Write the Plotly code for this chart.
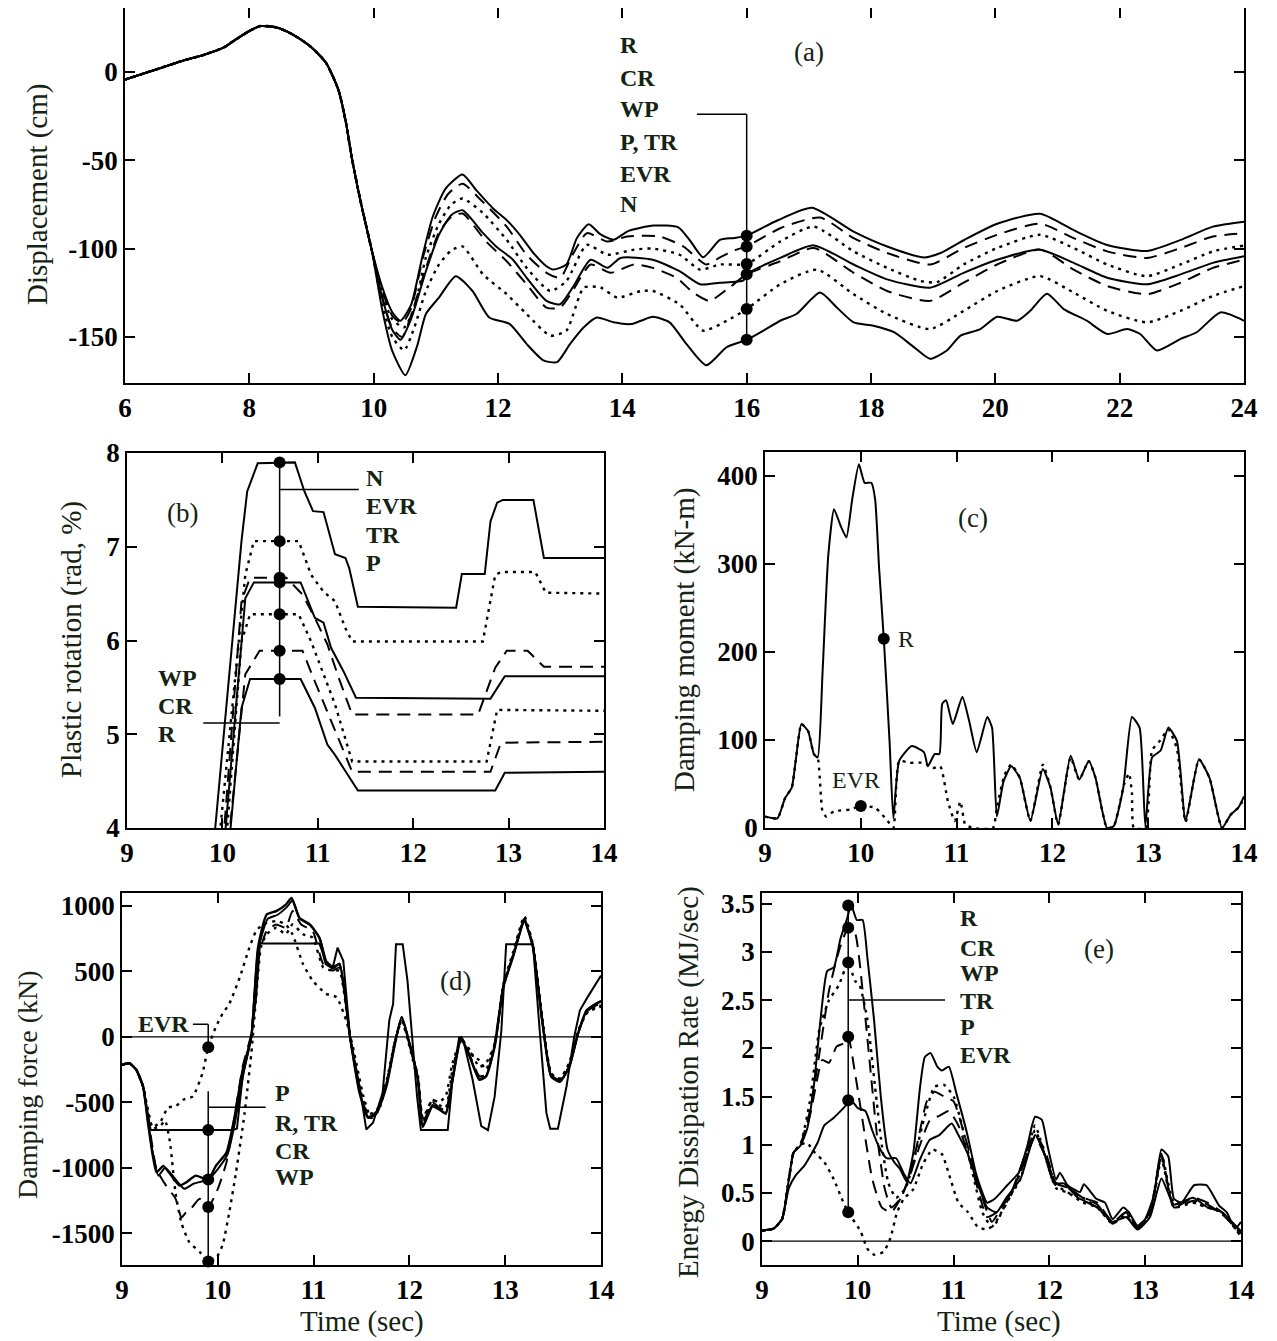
import plotly.graph_objects as go

W, H = 1277, 1341
OFF = 8  # browser default body margin
SERIF = "Liberation Serif"
TXT = "#142312"

# ---------------- Panel (a): displacement ----------------
a_t_common = [6.0, 6.3, 6.6, 6.93, 7.26, 7.59, 7.79, 8.0, 8.18, 8.44, 8.7, 8.97, 9.23, 9.43, 9.55, 9.65, 9.8, 9.97]
a_d_common = [-4.5, -1.0, 2.4, 6.2, 9.4, 13.7, 18.4, 23.0, 25.8, 25.0, 21.0, 14.6, 5.2, -10.0, -28.0, -49.0, -75.0, -101.0]

a_R_t = [10.14, 10.3, 10.43, 10.6, 10.78, 10.95, 11.16, 11.43, 11.65, 11.92, 12.14, 12.35, 12.57, 12.78, 12.89, 13.1, 13.27, 13.46, 13.65, 13.86, 14.1, 14.5, 14.9, 15.1, 15.3, 15.57, 15.8, 16.0, 16.5, 17.05, 17.72, 18.26, 18.85, 19.12, 19.49, 20.03, 20.72, 21.26, 21.8, 22.44, 22.98, 23.5, 24.0]
a_R = [-122, -136, -140.8, -132, -105, -82, -66, -58.1, -67, -77.3, -83.9, -92.2, -102.5, -110, -111.9, -109, -94, -86.3, -92, -95, -90, -87, -88, -96, -104.9, -95.1, -94, -92.7, -84, -76.9, -90.4, -98.8, -105, -102.5, -95.3, -86, -80.3, -89.6, -98, -101.4, -95.1, -87.6, -84.8]

a_CR_t = [10.14, 10.3, 10.46, 10.6, 10.8, 11.0, 11.2, 11.43, 11.7, 12.14, 12.46, 12.78, 13.0, 13.2, 13.43, 13.76, 14.08, 14.6, 14.98, 15.35, 15.57, 15.8, 16.0, 16.54, 17.18, 17.72, 18.26, 18.95, 19.49, 20.03, 20.72, 21.26, 21.8, 22.44, 22.98, 23.5, 24.0]
a_CR = [-124, -138, -142, -134, -104, -82, -69, -63.3, -71.7, -87.6, -103.5, -113.7, -116.5, -103.5, -91.3, -96, -93.2, -93.2, -98.8, -109, -105, -101, -98.8, -88.5, -82.5, -94.1, -102.5, -109, -99.7, -92.2, -85.9, -94.1, -101.6, -105.3, -99.7, -93.2, -91.3]

a_WP_t = [10.14, 10.3, 10.49, 10.65, 10.84, 11.05, 11.25, 11.43, 11.76, 12.14, 12.46, 12.84, 13.1, 13.43, 13.76, 14.19, 14.49, 14.92, 15.25, 15.57, 16.0, 16.54, 17.08, 17.72, 18.26, 18.8, 19.06, 19.49, 20.03, 20.72, 21.26, 21.8, 22.44, 22.98, 23.5, 24.0]
a_WP = [-126, -140, -144.5, -134, -105, -86, -75, -71.7, -80, -95.1, -110.9, -124, -118.4, -97.9, -103.5, -100.6, -100, -103.5, -111.9, -109, -108.7, -96, -87.6, -101.6, -110.9, -118.4, -119, -109, -99.7, -92.2, -99.7, -109, -115.6, -109, -101.6, -98.3]

a_P_t = [10.14, 10.3, 10.43, 10.6, 10.84, 11.05, 11.25, 11.43, 11.76, 11.97, 12.24, 12.46, 12.78, 13.0, 13.2, 13.49, 13.76, 13.97, 14.49, 14.92, 15.25, 15.57, 15.95, 16.0, 16.54, 17.08, 17.72, 18.26, 18.95, 19.49, 20.03, 20.72, 21.26, 21.8, 22.44, 22.98, 23.5, 24.0]
a_P = [-128, -146, -151.6, -140, -112.8, -92.2, -81, -78.3, -91.3, -98.8, -106.3, -116.5, -129.6, -131.5, -122.1, -106.3, -110.9, -105.3, -106.3, -112.8, -120.2, -119.3, -118, -114.4, -105.3, -98.2, -109, -117.4, -122.1, -113.7, -106.3, -100.6, -108.1, -116.5, -120.2, -114.6, -108.1, -104.4]

a_TR_t = [10.14, 10.3, 10.46, 10.6, 10.84, 11.05, 11.25, 11.43, 11.81, 12.14, 12.46, 12.78, 13.0, 13.2, 13.49, 13.81, 14.19, 14.49, 14.87, 15.14, 15.4, 15.72, 16.0, 16.54, 17.08, 17.72, 18.26, 18.95, 19.49, 20.03, 20.72, 21.26, 21.8, 22.44, 22.98, 23.5, 24.0]
a_TR = [-128, -145, -150, -138, -111, -91, -82, -80.2, -96, -107.2, -120.2, -133.4, -133.4, -124, -109, -113.7, -109, -110.9, -116.5, -124.9, -129.6, -122.1, -114.6, -107.2, -99.7, -113.7, -124, -129.6, -119.3, -109, -100.6, -111.9, -121.2, -125.8, -119.3, -110.9, -106.3]

a_EVR_t = [10.14, 10.3, 10.49, 10.65, 10.84, 11.05, 11.25, 11.43, 11.76, 12.14, 12.46, 12.84, 13.1, 13.38, 13.65, 13.92, 14.3, 14.49, 14.92, 15.3, 15.68, 16.0, 16.54, 17.13, 17.72, 18.26, 18.95, 19.49, 20.03, 20.72, 21.26, 21.8, 22.44, 22.98, 23.5, 24.0]
a_EVR = [-132, -150, -157.5, -145, -124, -109, -101, -98.8, -114.6, -125.8, -137, -149.2, -146.4, -122.1, -122, -127.7, -124, -124, -131.5, -146.4, -140.8, -134.2, -120.2, -111.9, -125.8, -137, -145.5, -135.2, -124, -115.6, -124.9, -135.2, -141.7, -135.2, -126.8, -121.2]

a_N_t = [10.14, 10.3, 10.51, 10.7, 10.84, 11.05, 11.32, 11.59, 11.86, 12.19, 12.46, 12.73, 12.95, 13.16, 13.38, 13.59, 13.86, 14.14, 14.3, 14.49, 14.76, 15.03, 15.35, 15.68, 16.0, 16.27, 16.54, 16.8, 17.18, 17.45, 17.72, 18.04, 18.37, 18.69, 18.95, 19.22, 19.44, 19.76, 20.03, 20.35, 20.56, 20.83, 21.1, 21.47, 21.8, 22.12, 22.33, 22.6, 22.98, 23.24, 23.62, 24.0]
a_N = [-135, -158, -171.6, -155, -137, -127.7, -115.6, -124, -139, -142.7, -153.9, -163.2, -164.2, -153.9, -144.5, -139, -141.7, -142.7, -140.8, -138.6, -141.7, -153.9, -166, -155.7, -151.6, -146.4, -140.8, -137, -124.9, -133.3, -141.7, -143.6, -147.3, -155.7, -162.3, -157.6, -149.2, -145.5, -138.6, -140.8, -135.2, -125.5, -134.2, -140.8, -148.3, -145.5, -148.3, -157.6, -151.1, -147.3, -136.1, -140.8]

a_dot_t = 16.0
a_dots = [-92.7, -98.8, -108.7, -114.5, -134.2, -151.6]
a_labels = ["R", "CR", "WP", "P, TR", "EVR", "N"]
a_label_y = [15.1, -3.4, -21.3, -39.8, -57.7, -75.0]

# ---------------- Panel (b): plastic rotation ----------------
b_N_t = [9.88, 10.2, 10.26, 10.37, 10.76, 10.86, 10.95, 11.06, 11.18, 11.29, 11.33, 11.42, 12.45, 12.51, 12.75, 12.81, 12.88, 12.94, 13.26, 13.37, 14.0]
b_N = [3.5, 7.06, 7.59, 7.89, 7.9, 7.59, 7.38, 7.37, 6.92, 6.88, 6.77, 6.36, 6.35, 6.71, 6.71, 7.27, 7.47, 7.5, 7.5, 6.88, 6.88]
b_EVR_t = [9.94, 10.24, 10.33, 10.8, 10.93, 11.06, 11.18, 11.29, 11.36, 12.73, 12.86, 12.92, 13.28, 13.39, 14.0]
b_EVR = [3.6, 6.7, 7.06, 7.06, 6.7, 6.52, 6.42, 6.13, 5.99, 5.99, 6.7, 6.73, 6.73, 6.51, 6.5]
b_TR_t = [9.99, 10.2, 10.29, 10.67, 10.84, 10.97, 11.1, 11.22, 11.36, 12.68, 12.86, 12.98, 13.2, 13.37, 14.0]
b_TR = [3.6, 6.42, 6.67, 6.67, 6.49, 6.24, 5.96, 5.6, 5.21, 5.21, 5.71, 5.89, 5.89, 5.72, 5.72]
b_P_t = [10.0, 10.24, 10.33, 10.82, 10.97, 11.06, 11.14, 11.27, 11.4, 12.81, 12.96, 14.0]
b_P = [3.6, 6.45, 6.62, 6.62, 6.24, 6.19, 5.92, 5.67, 5.39, 5.38, 5.62, 5.62]
b_WP_t = [10.02, 10.2, 10.29, 10.8, 10.93, 11.06, 11.18, 11.36, 12.77, 12.88, 14.0]
b_WP = [3.6, 5.99, 6.28, 6.28, 5.99, 5.64, 5.32, 4.71, 4.71, 5.26, 5.25]
b_CR_t = [10.04, 10.24, 10.39, 10.84, 10.97, 11.1, 11.23, 11.36, 12.81, 12.92, 14.0]
b_CR = [3.6, 5.64, 5.89, 5.89, 5.56, 5.24, 4.92, 4.6, 4.6, 4.91, 4.92]
b_R_t = [10.05, 10.2, 10.29, 10.82, 10.97, 11.1, 11.18, 11.31, 11.42, 12.86, 12.96, 14.0]
b_R = [3.6, 5.28, 5.59, 5.59, 5.28, 4.89, 4.78, 4.57, 4.4, 4.4, 4.59, 4.6]
b_dot_t = 10.6
b_dots = [7.9, 7.06, 6.67, 6.62, 6.28, 5.89, 5.59]
b_labels_top = ["N", "EVR", "TR", "P"]
b_labels_top_y = [7.73, 7.43, 7.13, 6.83]
b_labels_bot = ["WP", "CR", "R"]
b_labels_bot_y = [5.6, 5.3, 5.0]

# ---------------- Panel (c): damping moment ----------------
c_R_t = [9.0, 9.13, 9.21, 9.28, 9.32, 9.38, 9.45, 9.51, 9.55, 9.6, 9.66, 9.72, 9.79, 9.85, 9.91, 9.98, 10.04, 10.11, 10.15, 10.19, 10.24, 10.3, 10.34, 10.4, 10.53, 10.66, 10.7, 10.77, 10.82, 10.85, 10.89, 10.96, 11.06, 11.13, 11.21, 11.32, 11.37, 11.42, 11.49, 11.57, 11.66, 11.77, 11.9, 11.98, 12.06, 12.19, 12.28, 12.38, 12.45, 12.57, 12.64, 12.74, 12.83, 12.91, 12.97, 13.04, 13.13, 13.21, 13.3, 13.39, 13.53, 13.64, 13.77, 13.86, 13.94, 14.0]
c_R = [13, 11, 34, 46, 76, 118, 110, 84, 80, 175, 309, 362, 343, 330, 373, 413, 392, 392, 373, 297, 215, 99, 11, 76, 93, 86, 70, 84, 84, 141, 145, 118, 149, 122, 86, 126, 114, 13, 53, 70, 57, 8, 67, 46, 4, 82, 55, 76, 57, 0, 2, 46, 126, 114, 2, 80, 88, 114, 99, 8, 78, 57, 0, 15, 23, 36]
c_EVR_t = [9.0, 9.13, 9.21, 9.28, 9.32, 9.38, 9.45, 9.51, 9.55, 9.6, 9.64, 9.72, 9.89, 10.0, 10.15, 10.28, 10.34, 10.4, 10.51, 10.66, 10.75, 10.83, 10.91, 10.98, 11.04, 11.09, 11.17, 11.38, 11.42, 11.5, 11.57, 11.66, 11.77, 11.9, 11.98, 12.06, 12.19, 12.28, 12.38, 12.45, 12.57, 12.64, 12.75, 12.8, 12.83, 12.85, 12.97, 13.04, 13.13, 13.21, 13.3, 13.39, 13.53, 13.64, 13.77, 13.86, 13.94, 14.0]
c_EVR = [13, 11, 34, 46, 76, 118, 110, 84, 80, 19, 13, 19, 21, 25, 23, 8, 0, 76, 74, 74, 68, 70, 30, 8, 30, 4, 0, 0, 23, 60, 72, 57, 8, 72, 46, 4, 80, 55, 76, 57, 0, 2, 50, 62, 40, 0, 0, 88, 100, 112, 90, 7, 78, 57, 0, 15, 23, 33]
c_dot_R = (10.24, 215)
c_dot_EVR = (10.0, 25)

# ---------------- Panel (d): damping force ----------------
d_t_common = [9.0, 9.04, 9.08, 9.15, 9.22]
d_common = [-215, -205, -202, -252, -379]
d_P_t = [9.27, 9.3, 10.16, 10.2, 10.26, 10.35, 10.4, 10.44, 11.06, 11.13, 11.2, 11.25, 11.31, 11.38, 11.48, 11.55, 11.62, 11.72, 11.79, 11.83, 11.86, 11.93, 11.98, 12.04, 12.08, 12.12, 12.4, 12.45, 12.52, 12.57, 12.66, 12.75, 12.82, 12.89, 12.96, 13.01, 13.29, 13.36, 13.43, 13.47, 13.55, 13.64, 13.72, 13.78, 13.86, 14.0]
d_P = [-600, -712, -712, -700, -300, 0, 303, 712, 712, 580, 530, 680, 580, 0, -379, -707, -656, -429, 126, 252, 707, 707, 429, -126, -455, -712, -712, -328, 0, -50, -328, -682, -712, -455, 50, 707, 707, 50, -581, -702, -702, -379, 0, 202, 303, 467]
d_R_t = [9.27, 9.32, 9.36, 9.43, 9.49, 9.6, 9.67, 9.77, 9.9, 9.98, 10.09, 10.17, 10.26, 10.35, 10.42, 10.51, 10.61, 10.71, 10.77, 10.85, 10.96, 11.06, 11.13, 11.2, 11.27, 11.38, 11.48, 11.57, 11.66, 11.76, 11.85, 11.92, 12.0, 12.09, 12.14, 12.24, 12.31, 12.38, 12.45, 12.54, 12.63, 12.73, 12.8, 12.89, 12.98, 13.08, 13.2, 13.29, 13.39, 13.48, 13.57, 13.67, 13.76, 13.85, 13.95, 14.0]
d_R = [-650, -900, -1035, -985, -1035, -1136, -1111, -1060, -1090, -985, -884, -631, -252, 0, 682, 934, 960, 1010, 1060, 909, 858, 758, 555, 530, 555, 0, -429, -619, -581, -379, -50, 152, -50, -328, -682, -530, -555, -581, -328, -13, -151, -328, -303, -76, 379, 606, 884, 682, 101, -303, -341, -227, 25, 202, 252, 270]
d_TR_t = [9.27, 9.32, 9.38, 9.45, 9.55, 9.65, 9.75, 9.9, 10.0, 10.1, 10.18, 10.27, 10.35, 10.42, 10.52, 10.62, 10.72, 10.78, 10.86, 10.97, 11.07, 11.14, 11.2, 11.27, 11.38, 11.48, 11.57, 11.66, 11.76, 11.85, 11.92, 12.0, 12.09, 12.14, 12.24, 12.31, 12.38, 12.45, 12.54, 12.63, 12.73, 12.8, 12.89, 12.98, 13.08, 13.2, 13.29, 13.39, 13.48, 13.57, 13.67, 13.76, 13.85, 13.95, 14.0]
d_TR = [-640, -880, -1060, -1000, -1080, -1160, -1120, -1090, -1010, -900, -650, -270, 0, 660, 900, 930, 990, 1040, 900, 850, 740, 560, 520, 560, 0, -420, -610, -575, -370, -45, 150, -55, -330, -690, -520, -550, -590, -330, -10, -150, -320, -300, -70, 385, 610, 880, 690, 100, -300, -345, -225, 20, 200, 255, 275]
d_CR_t = [9.27, 9.36, 9.46, 9.56, 9.62, 9.67, 9.72, 9.81, 9.9, 10.0, 10.09, 10.17, 10.26, 10.35, 10.42, 10.51, 10.61, 10.71, 10.78, 10.87, 10.99, 11.1, 11.2, 11.27, 11.38, 11.48, 11.57, 11.66, 11.76, 11.85, 11.92, 12.0, 12.09, 12.14, 12.24, 12.31, 12.38, 12.45, 12.54, 12.63, 12.73, 12.8, 12.89, 12.98, 13.08, 13.2, 13.29, 13.39, 13.48, 13.57, 13.67, 13.76, 13.85, 13.95, 14.0]
d_CR = [-600, -1010, -1136, -1237, -1380, -1338, -1313, -1237, -1300, -1161, -960, -631, -227, 25, 606, 808, 858, 833, 960, 858, 808, 555, 505, 530, 0, -400, -600, -570, -360, -40, 140, -40, -320, -660, -500, -540, -560, -300, 0, -140, -300, -290, -60, 390, 620, 900, 690, 110, -290, -330, -220, 30, 190, 240, 250]
d_WP_t = [9.27, 9.32, 9.4, 9.45, 9.5, 9.56, 9.62, 9.7, 9.81, 9.9, 9.98, 10.05, 10.12, 10.19, 10.28, 10.35, 10.4, 10.45, 10.51, 10.61, 10.71, 10.78, 10.89, 10.99, 11.1, 11.2, 11.27, 11.38, 11.48, 11.57, 11.66, 11.76, 11.85, 11.92, 12.0, 12.09, 12.14, 12.24, 12.31, 12.38, 12.45, 12.54, 12.63, 12.73, 12.8, 12.89, 12.98, 13.08, 13.2, 13.29, 13.39, 13.48, 13.57, 13.67, 13.76, 13.85, 13.95, 14.0]
d_WP = [-560, -700, -680, -640, -800, -1200, -1420, -1565, -1641, -1710, -1692, -1590, -1338, -1035, -581, -126, 303, 682, 783, 833, 783, 858, 783, 758, 530, 505, 505, 0, -380, -590, -560, -340, -30, 130, -60, -300, -620, -480, -520, -540, -250, -20, -100, -230, -200, -60, 400, 640, 920, 700, 120, -280, -320, -200, 40, 180, 230, 240]
d_EVR_t = [9.27, 9.32, 9.4, 9.48, 9.56, 9.64, 9.74, 9.84, 9.9, 9.98, 10.05, 10.12, 10.23, 10.33, 10.4, 10.47, 10.61, 10.71, 10.78, 10.89, 10.99, 11.13, 11.24, 11.34, 11.41, 11.52, 11.6, 11.68, 11.77, 11.85, 11.92, 12.0, 12.09, 12.14, 12.24, 12.31, 12.38, 12.45, 12.54, 12.63, 12.73, 12.8, 12.89, 12.98, 13.08, 13.2, 13.29, 13.39, 13.48, 13.57, 13.67, 13.76, 13.85, 13.95, 14.0]
d_EVR = [-560, -690, -650, -540, -530, -480, -455, -278, -80, 76, 177, 252, 455, 682, 808, 858, 884, 858, 783, 555, 429, 328, 303, 126, -76, -455, -620, -560, -330, -30, 120, -70, -350, -640, -480, -500, -450, -200, -30, -120, -180, -250, -50, 380, 620, 900, 700, 120, -280, -320, -200, 40, 180, 220, 230]
d_dot_t = 9.9
d_dots = [-712, -1090, -1300, -1715]
d_dot_EVR = -80
d_labels = ["P", "R, TR", "CR", "WP"]
d_labels_y = [-429, -656, -871, -1073]

# ---------------- Panel (e): energy dissipation rate ----------------
e_t_common = [9.0, 9.12, 9.21]
e_common = [0.11, 0.13, 0.23]
e_R_t = [9.28, 9.33, 9.4, 9.47, 9.54, 9.61, 9.68, 9.75, 9.82, 9.89, 9.93, 9.99, 10.05, 10.1, 10.17, 10.24, 10.31, 10.38, 10.44, 10.51, 10.58, 10.65, 10.7, 10.76, 10.83, 10.88, 10.95, 11.03, 11.14, 11.24, 11.35, 11.43, 11.56, 11.68, 11.77, 11.85, 11.92, 11.98, 12.07, 12.11, 12.19, 12.32, 12.36, 12.49, 12.58, 12.66, 12.77, 12.83, 12.92, 13.0, 13.09, 13.17, 13.24, 13.3, 13.38, 13.51, 13.64, 13.77, 13.85, 13.94, 14.0]
e_R = [0.64, 0.92, 0.99, 1.16, 1.6, 2.29, 2.8, 2.84, 3.14, 3.35, 3.49, 3.33, 3.33, 2.94, 2.29, 1.5, 0.95, 0.82, 0.75, 0.62, 0.92, 1.6, 1.91, 1.95, 1.81, 1.77, 1.81, 1.53, 1.12, 0.68, 0.4, 0.44, 0.58, 0.71, 0.99, 1.29, 1.26, 0.99, 0.64, 0.71, 0.58, 0.51, 0.59, 0.44, 0.4, 0.23, 0.35, 0.3, 0.16, 0.23, 0.47, 0.95, 0.88, 0.44, 0.4, 0.58, 0.58, 0.37, 0.3, 0.13, 0.2]
e_CR_t = [9.28, 9.33, 9.4, 9.5, 9.6, 9.7, 9.8, 9.9, 9.97, 10.05, 10.12, 10.2, 10.28, 10.35, 10.45, 10.55, 10.65, 10.72, 10.8, 10.9, 11.0, 11.1, 11.2, 11.3, 11.4, 11.5, 11.6, 11.75, 11.85, 11.95, 12.07, 12.2, 12.35, 12.5, 12.66, 12.8, 12.92, 13.05, 13.17, 13.3, 13.5, 13.65, 13.8, 14.0]
e_CR = [0.64, 0.92, 1.0, 1.35, 1.95, 2.6, 3.0, 3.25, 3.2, 2.6, 1.9, 1.1, 0.55, 0.35, 0.45, 0.7, 1.15, 1.45, 1.55, 1.5, 1.45, 1.15, 0.8, 0.45, 0.2, 0.35, 0.5, 0.9, 1.1, 0.95, 0.6, 0.55, 0.45, 0.4, 0.2, 0.3, 0.15, 0.3, 0.9, 0.35, 0.45, 0.4, 0.3, 0.1]
e_WP_t = [9.28, 9.33, 9.4, 9.5, 9.6, 9.7, 9.8, 9.9, 9.97, 10.02, 10.1, 10.18, 10.25, 10.32, 10.4, 10.5, 10.6, 10.7, 10.8, 10.9, 11.0, 11.1, 11.2, 11.3, 11.4, 11.5, 11.6, 11.75, 11.85, 11.95, 12.07, 12.2, 12.35, 12.5, 12.66, 12.8, 12.92, 13.05, 13.17, 13.3, 13.5, 13.65, 13.8, 14.0]
e_WP = [0.64, 0.92, 1.0, 1.45, 2.2, 2.5, 2.65, 2.89, 2.7, 2.65, 2.3, 1.6, 1.0, 0.6, 0.45, 0.55, 0.9, 1.3, 1.6, 1.62, 1.5, 1.15, 0.7, 0.3, 0.15, 0.3, 0.48, 0.85, 1.15, 0.9, 0.55, 0.5, 0.4, 0.35, 0.18, 0.28, 0.14, 0.28, 0.85, 0.35, 0.4, 0.35, 0.3, 0.05]
e_TR_t = [9.28, 9.33, 9.4, 9.5, 9.58, 9.63, 9.7, 9.78, 9.85, 9.9, 9.97, 10.05, 10.15, 10.25, 10.35, 10.45, 10.55, 10.65, 10.75, 10.85, 10.95, 11.05, 11.15, 11.25, 11.35, 11.45, 11.6, 11.75, 11.85, 11.95, 12.07, 12.2, 12.35, 12.5, 12.66, 12.8, 12.92, 13.05, 13.17, 13.3, 13.5, 13.65, 13.8, 14.0]
e_TR = [0.64, 0.92, 0.99, 1.3, 1.7, 1.88, 1.85, 2.02, 2.05, 2.12, 1.75, 1.25, 0.65, 0.35, 0.3, 0.45, 0.7, 1.0, 1.25, 1.3, 1.35, 1.2, 0.9, 0.55, 0.25, 0.3, 0.5, 0.85, 1.08, 0.9, 0.6, 0.55, 0.45, 0.38, 0.18, 0.3, 0.14, 0.28, 0.88, 0.35, 0.42, 0.38, 0.28, 0.08]
e_P_t = [9.28, 9.35, 9.44, 9.58, 9.65, 9.75, 9.87, 9.93, 10.0, 10.08, 10.15, 10.22, 10.3, 10.4, 10.48, 10.55, 10.65, 10.75, 10.85, 10.98, 11.05, 11.15, 11.25, 11.35, 11.45, 11.55, 11.7, 11.85, 11.95, 12.05, 12.15, 12.3, 12.5, 12.66, 12.8, 12.92, 13.05, 13.17, 13.3, 13.5, 13.65, 13.8, 14.0]
e_P = [0.55, 0.68, 0.78, 1.02, 1.2, 1.28, 1.4, 1.46, 1.38, 1.35, 1.15, 0.98, 0.86, 0.86, 0.7, 0.6, 0.85, 1.05, 1.1, 1.22, 1.1, 0.9, 0.6, 0.35, 0.3, 0.45, 0.65, 1.1, 0.9, 0.6, 0.6, 0.45, 0.35, 0.2, 0.25, 0.12, 0.25, 0.65, 0.38, 0.45, 0.35, 0.3, 0.1]
e_EVR_t = [9.28, 9.33, 9.4, 9.47, 9.55, 9.65, 9.75, 9.85, 9.9, 10.03, 10.1, 10.17, 10.27, 10.34, 10.41, 10.48, 10.58, 10.68, 10.78, 10.88, 10.95, 11.05, 11.15, 11.25, 11.35, 11.45, 11.55, 11.7, 11.85, 11.95, 12.05, 12.2, 12.35, 12.5, 12.66, 12.8, 12.92, 13.05, 13.17, 13.3, 13.5, 13.65, 13.8, 14.0]
e_EVR = [0.64, 0.92, 1.0, 1.02, 0.92, 0.82, 0.64, 0.4, 0.3, 0.1, -0.08, -0.14, -0.11, 0.03, 0.3, 0.44, 0.54, 0.8, 0.95, 0.9, 0.7, 0.4, 0.3, 0.15, 0.12, 0.2, 0.4, 0.65, 1.2, 0.9, 0.6, 0.5, 0.45, 0.35, 0.2, 0.25, 0.15, 0.3, 0.9, 0.4, 0.4, 0.35, 0.3, 0.05]
e_dot_t = 9.9
e_dots = [3.48, 3.25, 2.89, 2.12, 1.46, 0.3]
e_labels = ["R", "CR", "WP", "TR", "P", "EVR"]
e_labels_y = [3.35, 3.04, 2.78, 2.49, 2.22, 1.93]

# ---------------- figure ----------------
SOLID = dict(color="black", width=2)
DASH = dict(color="black", width=2, dash="13px,8px")
DOT = dict(color="black", width=2.4, dash="3px,5px")

fig = go.Figure()


def add(xs, ys, style, ax, shape="spline", smooth=0.7):
    if len(xs) != len(ys):
        raise ValueError("length mismatch")
    line = dict(style)
    line["shape"] = shape
    if shape == "spline":
        line["smoothing"] = smooth
    fig.add_trace(go.Scatter(x=xs, y=ys, mode="lines", line=line,
                             xaxis="x" + ax, yaxis="y" + ax, showlegend=False,
                             hoverinfo="skip"))


def dots(xs, ys, ax, size=12):
    fig.add_trace(go.Scatter(x=xs, y=ys, mode="markers",
                             marker=dict(color="black", size=size),
                             xaxis="x" + ax, yaxis="y" + ax, showlegend=False,
                             cliponaxis=False, hoverinfo="skip"))


def seg(ax, x0, y0, x1, y1, w=1.5):
    fig.add_shape(type="line", xref="x" + ax, yref="y" + ax,
                  x0=x0, y0=y0, x1=x1, y1=y1, line=dict(color="black", width=w))


# panel a (axis suffix "")
for tt, vv, st in [(a_R_t, a_R, SOLID), (a_CR_t, a_CR, DASH), (a_WP_t, a_WP, DOT),
                   (a_P_t, a_P, SOLID), (a_TR_t, a_TR, DASH), (a_EVR_t, a_EVR, DOT),
                   (a_N_t, a_N, SOLID)]:
    add(a_t_common + tt, a_d_common + vv, st, "", smooth=0.6)
seg("", 15.2, -24.1, 16.0, -24.1)
seg("", 16.0, -24.1, 16.0, -152)
dots([a_dot_t] * len(a_dots), a_dots, "")

# panel b
for tt, vv, st in [(b_N_t, b_N, SOLID), (b_EVR_t, b_EVR, DOT), (b_TR_t, b_TR, DASH),
                   (b_P_t, b_P, SOLID), (b_WP_t, b_WP, DOT), (b_CR_t, b_CR, DASH),
                   (b_R_t, b_R, SOLID)]:
    add(tt, vv, st, "2", shape="linear")
seg("2", 10.6, 7.9, 10.6, 5.19)
seg("2", 10.6, 7.61, 11.43, 7.61)
seg("2", 9.8, 5.12, 10.6, 5.12)
dots([b_dot_t] * len(b_dots), b_dots, "2")

# panel c
add(c_EVR_t, c_EVR, DOT, "3", smooth=0.5)
add(c_R_t, c_R, SOLID, "3", smooth=0.5)
dots([c_dot_R[0], c_dot_EVR[0]], [c_dot_R[1], c_dot_EVR[1]], "3")

# panel d
seg("4", 9, 0, 14, 0, w=1.3)
add(d_t_common + d_P_t, d_common + d_P, SOLID, "4", shape="linear")
add(d_t_common + d_TR_t, d_common + d_TR, SOLID, "4", smooth=0.5)
add(d_t_common + d_R_t, d_common + d_R, dict(color="black", width=2.4), "4", smooth=0.5)
add(d_t_common + d_CR_t, d_common + d_CR, DASH, "4", smooth=0.5)
add(d_t_common + d_WP_t, d_common + d_WP, DOT, "4", smooth=0.5)
add(d_t_common + d_EVR_t, d_common + d_EVR, DOT, "4", smooth=0.5)
seg("4", d_dot_t, -416, d_dot_t, -1715)
seg("4", d_dot_t, -538, 10.5, -538)
seg("4", 9.74, 96, 9.9, 96)
seg("4", 9.9, 96, 9.9, -80)
dots([d_dot_t] * len(d_dots) + [d_dot_t], d_dots + [d_dot_EVR], "4")

# panel e
seg("5", 9, 0, 14, 0, w=1.3)
add(e_t_common + e_R_t, e_common + e_R, SOLID, "5", smooth=0.5)
add(e_t_common + e_CR_t, e_common + e_CR, DASH, "5", smooth=0.5)
add(e_t_common + e_WP_t, e_common + e_WP, DOT, "5", smooth=0.5)
add(e_t_common + e_TR_t, e_common + e_TR, DASH, "5", smooth=0.5)
add(e_t_common + e_P_t, e_common + e_P, SOLID, "5", smooth=0.5)
add(e_t_common + e_EVR_t, e_common + e_EVR, DOT, "5", smooth=0.5)
seg("5", e_dot_t, 3.48, e_dot_t, 0.3)
seg("5", e_dot_t, 2.5, 10.91, 2.5)
dots([e_dot_t] * len(e_dots), e_dots, "5")


# ---------------- axes (screen pixel -> paper, compensating body margin) ----------------
def px(x):
    return (x - OFF) / W


def py(y):
    return 1 - (y - OFF) / H


TICKFONT = dict(family=SERIF, size=27, color="black", weight="bold")


def axis(dom, rng, tickvals, ticktext=None, anchor=None):
    d = dict(domain=dom, range=rng, tickvals=tickvals, ticks="inside", ticklen=10,
             tickwidth=1.5, tickcolor="black", showline=True, linecolor="black",
             linewidth=1.5, mirror="ticks", showgrid=False, zeroline=False,
             tickfont=TICKFONT, anchor=anchor, fixedrange=True, automargin=False)
    if ticktext is not None:
        d["ticktext"] = ticktext
    return d


x_ticks_a = [6, 8, 10, 12, 14, 16, 18, 20, 22, 24]
y_ticks_a = [0, -50, -100, -150]
x_ticks_b = [9, 10, 11, 12, 13, 14]
y_ticks_b = [4, 5, 6, 7, 8]
y_ticks_c = [0, 100, 200, 300, 400]
y_ticks_d = [1000, 500, 0, -500, -1000, -1500]
y_ticks_e = [3.5, 3, 2.5, 2, 1.5, 1, 0.5, 0]

fig.update_layout(
    width=W, height=H, margin=dict(l=0, r=0, t=0, b=0, autoexpand=False),
    paper_bgcolor="white", plot_bgcolor="white",
    xaxis=axis([px(125), px(1244)], [6, 24], x_ticks_a, [str(v) for v in x_ticks_a], "y"),
    yaxis=axis([py(383), py(8)], [-176, 36], y_ticks_a, [str(v) for v in y_ticks_a], "x"),
    xaxis2=axis([px(127), px(604)], [9, 14], x_ticks_b, [str(v) for v in x_ticks_b], "y2"),
    yaxis2=axis([py(828), py(453)], [4, 8], y_ticks_b, [str(v) for v in y_ticks_b], "x2"),
    xaxis3=axis([px(765), px(1244)], [9, 14], x_ticks_b, [str(v) for v in x_ticks_b], "y3"),
    yaxis3=axis([py(828), py(452)], [0, 427], y_ticks_c, [str(v) for v in y_ticks_c], "x3"),
    xaxis4=axis([px(122), px(601)], [9, 14], x_ticks_b, [str(v) for v in x_ticks_b], "y4"),
    yaxis4=axis([py(1265), py(893)], [-1742, 1098], y_ticks_d, [str(v) for v in y_ticks_d], "x4"),
    xaxis5=axis([px(762), px(1241)], [9, 14], x_ticks_b, [str(v) for v in x_ticks_b], "y5"),
    yaxis5=axis([py(1265), py(893)], [-0.247, 3.61], y_ticks_e, [str(v) for v in y_ticks_e], "x5"),
)

ann = []
LBL = dict(family=SERIF, size=24, color=TXT, weight="bold")
PANEL = dict(family=SERIF, size=27, color=TXT)
TITLE = dict(family=SERIF, size=29, color=TXT)


def text(ax, x, y, s, font, xanchor="left"):
    ann.append(dict(xref="x" + ax, yref="y" + ax, x=x, y=y, text=s, showarrow=False,
                    font=font, xanchor=xanchor, yanchor="middle"))


def ptext(x, y, s, angle=0, font=TITLE):
    ann.append(dict(xref="paper", yref="paper", x=px(x), y=py(y), text=s, showarrow=False,
                    font=font, textangle=angle, xanchor="center", yanchor="middle"))


for lab, yv in zip(a_labels, a_label_y):
    text("", 13.93, yv, lab, LBL)
text("", 17.0, 11.2, "(a)", PANEL, "center")

for lab, yv in zip(b_labels_top, b_labels_top_y):
    text("2", 11.48, yv, lab, LBL)
for lab, yv in zip(b_labels_bot, b_labels_bot_y):
    text("2", 9.3, yv, lab, LBL)
text("2", 9.58, 7.36, "(b)", PANEL, "center")

text("3", 10.37, 215, "R", dict(LBL, weight="normal"))
text("3", 9.95, 55, "EVR", dict(LBL, weight="normal"), "center")
text("3", 11.17, 352, "(c)", PANEL, "center")

text("4", 9.72, 96, "EVR", LBL, "right")
for lab, yv in zip(d_labels, d_labels_y):
    text("4", 10.58, yv, lab, LBL)
text("4", 12.48, 426, "(d)", PANEL, "center")

for lab, yv in zip(e_labels, e_labels_y):
    text("5", 11.05, yv, lab, LBL)
text("5", 12.52, 3.03, "(e)", PANEL, "center")

ptext(38, 195, "Displacement (cm)", -90)
ptext(72, 640, "Plastic rotation (rad, %)", -90)
ptext(685, 640, "Damping moment (kN-m)", -90)
ptext(27, 1085, "Damping force (kN)", -90, dict(TITLE, size=28))
ptext(362, 1321, "Time (sec)")
ptext(688, 1082, "Energy Dissipation Rate (MJ/sec)", -90)
ptext(999, 1321, "Time (sec)")

fig.update_layout(annotations=ann)
fig.write_html("out.html")
